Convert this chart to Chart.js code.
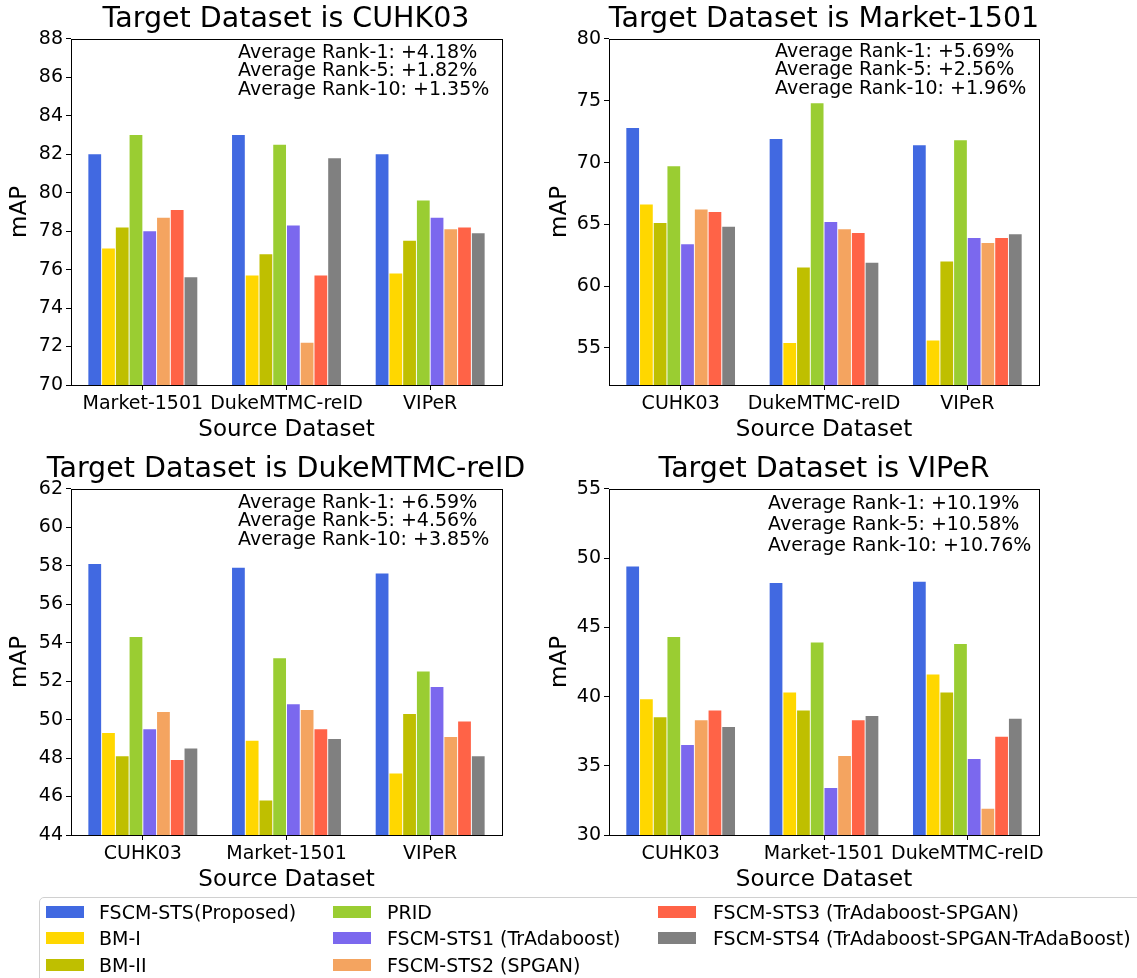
<!DOCTYPE html>
<html>
<head>
<meta charset="utf-8">
<title>mAP per target dataset</title>
<script src="https://cdn.jsdelivr.net/npm/chart.js@4"></script>
<style>
  body { margin: 0; background: #fff; font-family: 'DejaVu Sans', sans-serif; }
  #page { position: relative; width: 1137px; height: 978px; overflow: hidden; background: #fff; }
  .panel { position: absolute; }
  #legend { position: absolute; left: 39px; top: 897px; width: 1120px; height: 100px; border: 1px solid #d0d0d0; border-radius: 5px; }
  .legend-swatch { position: absolute; width: 38px; height: 12px; }
  .legend-label { position: absolute; font-size: 19px; line-height: 22px; color: #000; white-space: nowrap; }
</style>
</head>
<body>
<div id="page">
  <canvas class="panel" id="chart-cuhk03" width="572" height="450" style="left:0;top:0"></canvas>
  <canvas class="panel" id="chart-market" width="568" height="450" style="left:540px;top:0"></canvas>
  <canvas class="panel" id="chart-duke" width="572" height="450" style="left:0;top:450px"></canvas>
  <canvas class="panel" id="chart-viper" width="568" height="450" style="left:540px;top:450px"></canvas>
  <div id="legend"></div>
</div>
<script>
// Methods (same order in every panel)
const methods = [
    'FSCM-STS(Proposed)',
    'BM-I',
    'BM-II',
    'PRID',
    'FSCM-STS1 (TrAdaboost)',
    'FSCM-STS2 (SPGAN)',
    'FSCM-STS3 (TrAdaboost-SPGAN)',
    'FSCM-STS4 (TrAdaboost-SPGAN-TrAdaBoost)'
];
const methodColors = ['#4169E1', '#FFD700', '#BFBF00', '#9ACD32', '#7B68EE', '#F4A460', '#FF6347', '#808080'];

// Target CUHK03
const cuhk03Sources = ['Market-1501', 'DukeMTMC-reID', 'VIPeR'];
const cuhk03MAP = [
    [82.0, 83.0, 82.0],
    [77.1, 75.7, 75.8],
    [78.2, 76.8, 77.5],
    [83.0, 82.5, 79.6],
    [78.0, 78.3, 78.7],
    [78.7, 72.2, 78.1],
    [79.1, 75.7, 78.2],
    [75.6, 81.8, 77.9]
];
const cuhk03Range = [70, 88];
const cuhk03Ticks = [70, 72, 74, 76, 78, 80, 82, 84, 86, 88];
const cuhk03Notes = ['Average Rank-1: +4.18%', 'Average Rank-5: +1.82%', 'Average Rank-10: +1.35%'];

// Target Market-1501
const marketSources = ['CUHK03', 'DukeMTMC-reID', 'VIPeR'];
const marketMAP = [
    [72.8, 71.9, 71.4],
    [66.6, 55.4, 55.6],
    [65.1, 61.5, 62.0],
    [69.7, 74.8, 71.8],
    [63.4, 65.2, 63.9],
    [66.2, 64.6, 63.5],
    [66.0, 64.3, 63.9],
    [64.8, 61.9, 64.2]
];
const marketRange = [52, 80];
const marketTicks = [55, 60, 65, 70, 75, 80];
const marketNotes = ['Average Rank-1: +5.69%', 'Average Rank-5: +2.56%', 'Average Rank-10: +1.96%'];

// Target DukeMTMC-reID
const dukeSources = ['CUHK03', 'Market-1501', 'VIPeR'];
const dukeMAP = [
    [58.1, 57.9, 57.6],
    [49.3, 48.9, 47.2],
    [48.1, 45.8, 50.3],
    [54.3, 53.2, 52.5],
    [49.5, 50.8, 51.7],
    [50.4, 50.5, 49.1],
    [47.9, 49.5, 49.9],
    [48.5, 49.0, 48.1]
];
const dukeRange = [44, 62];
const dukeTicks = [44, 46, 48, 50, 52, 54, 56, 58, 60, 62];
const dukeNotes = ['Average Rank-1: +6.59%', 'Average Rank-5: +4.56%', 'Average Rank-10: +3.85%'];

// Target VIPeR
const viperSources = ['CUHK03', 'Market-1501', 'DukeMTMC-reID'];
const viperMAP = [
    [49.4, 48.2, 48.3],
    [39.8, 40.3, 41.6],
    [38.5, 39.0, 40.3],
    [44.3, 43.9, 43.8],
    [36.5, 33.4, 35.5],
    [38.3, 35.7, 31.9],
    [39.0, 38.3, 37.1],
    [37.8, 38.6, 38.4]
];
const viperRange = [30, 55];
const viperTicks = [30, 35, 40, 45, 50, 55];
const viperNotes = ['Average Rank-1: +10.19%', 'Average Rank-5: +10.58%', 'Average Rank-10: +10.76%'];

Chart.defaults.font.family = "'DejaVu Sans', sans-serif";
Chart.defaults.color = '#000';

// Box around the plot area (matplotlib spines)
const framePlugin = {
    id: 'frame',
    afterDatasetsDraw(chart) {
        const a = chart.chartArea;
        const ctx = chart.ctx;
        ctx.save();
        ctx.strokeStyle = '#000';
        ctx.lineWidth = 1;
        ctx.strokeRect(Math.round(a.left) + 0.5, Math.round(a.top) + 0.5,
            Math.round(a.right - a.left), Math.round(a.bottom - a.top));
        ctx.restore();
    }
};

// Average rank text inside the plot
const notesPlugin = {
    id: 'notes',
    afterDatasetsDraw(chart, args, opts) {
        const a = chart.chartArea;
        const ctx = chart.ctx;
        ctx.save();
        ctx.fillStyle = '#000';
        ctx.font = "19px 'DejaVu Sans', sans-serif";
        ctx.textBaseline = 'middle';
        opts.lines.forEach(function(line, i) {
            ctx.fillText(line, a.left + opts.dx, a.top + opts.dy + i * opts.gap);
        });
        ctx.restore();
    }
};

function makePanel(canvasId, title, sources, values, range, ticks, notes, box) {
    const axisGrid = { display: true, drawOnChartArea: false, drawTicks: true, tickLength: 5, color: '#000', offset: false };

    return new Chart(document.getElementById(canvasId), {
        type: 'bar',
        data: {
            labels: sources,
            datasets: methods.map(function(name, i) {
                return {
                    label: name,
                    data: values[i],
                    backgroundColor: methodColors[i],
                    borderWidth: 0,
                    categoryPercentage: 0.765,
                    barPercentage: 0.93
                };
            })
        },
        options: {
            responsive: false,
            animation: false,
            layout: { padding: 0 },
            plugins: {
                legend: { display: false },
                tooltip: { enabled: false },
                title: {
                    display: true,
                    text: title,
                    color: '#000',
                    font: { size: 28.5, weight: 'normal' },
                    padding: { top: 2, bottom: 2.8 }
                },
                notes: { lines: notes, dx: box.noteX, dy: box.noteY, gap: box.noteGap }
            },
            scales: {
                x: {
                    grid: axisGrid,
                    border: { display: false },
                    ticks: { color: '#000', font: { size: 19 }, maxRotation: 0, autoSkip: false, padding: 3 },
                    title: { display: true, text: 'Source Dataset', color: '#000', font: { size: 23 }, padding: { top: 0, bottom: 6 } },
                    afterFit: function(scale) { scale.height = 65; }
                },
                y: {
                    min: range[0],
                    max: range[1],
                    afterBuildTicks: function(scale) {
                        scale.ticks = ticks.map(function(v) { return { value: v }; });
                    },
                    grid: axisGrid,
                    border: { display: false },
                    ticks: { color: '#000', font: { size: 19 }, padding: 3 },
                    title: { display: true, text: 'mAP', color: '#000', font: { size: 23 }, padding: { top: 6, bottom: 0 } },
                    afterFit: function(scale) { scale.width = box.yWidth; }
                },
                // empty right-hand strip so the title centres over the plot
                spacer: {
                    type: 'linear',
                    position: 'right',
                    grid: { display: false },
                    border: { display: false },
                    ticks: { display: false },
                    afterFit: function(scale) { scale.width = box.rightPad; }
                }
            }
        },
        plugins: [framePlugin, notesPlugin]
    });
}

makePanel('chart-cuhk03', 'Target Dataset is CUHK03', cuhk03Sources, cuhk03MAP, cuhk03Range, cuhk03Ticks, cuhk03Notes,
    { yWidth: 71, rightPad: 70, noteX: 167, noteY: 14, noteGap: 18.5 });
makePanel('chart-market', 'Target Dataset is Market-1501', marketSources, marketMAP, marketRange, marketTicks, marketNotes,
    { yWidth: 69, rightPad: 69, noteX: 166, noteY: 13, noteGap: 18.5 });
makePanel('chart-duke', 'Target Dataset is DukeMTMC-reID', dukeSources, dukeMAP, dukeRange, dukeTicks, dukeNotes,
    { yWidth: 71, rightPad: 70, noteX: 167, noteY: 14, noteGap: 18.5 });
makePanel('chart-viper', 'Target Dataset is VIPeR', viperSources, viperMAP, viperRange, viperTicks, viperNotes,
    { yWidth: 69, rightPad: 69, noteX: 159, noteY: 15, noteGap: 21 });

// Shared legend, filled column by column (3 rows)
const legendEl = document.getElementById('legend');
const legendCols = [{ swatch: 6, text: 59 }, { swatch: 293, text: 347 }, { swatch: 618, text: 673 }];
const legendRows = [14, 40, 67];
methods.forEach(function(name, i) {
    const col = legendCols[Math.floor(i / 3)];
    const rowY = legendRows[i % 3];
    const swatch = document.createElement('div');
    swatch.className = 'legend-swatch';
    swatch.style.left = col.swatch + 'px';
    swatch.style.top = (rowY - 6) + 'px';
    swatch.style.background = methodColors[i];
    const label = document.createElement('div');
    label.className = 'legend-label';
    label.style.left = col.text + 'px';
    label.style.top = (rowY - 11) + 'px';
    label.textContent = name;
    legendEl.appendChild(swatch);
    legendEl.appendChild(label);
});
</script>
</body>
</html>
